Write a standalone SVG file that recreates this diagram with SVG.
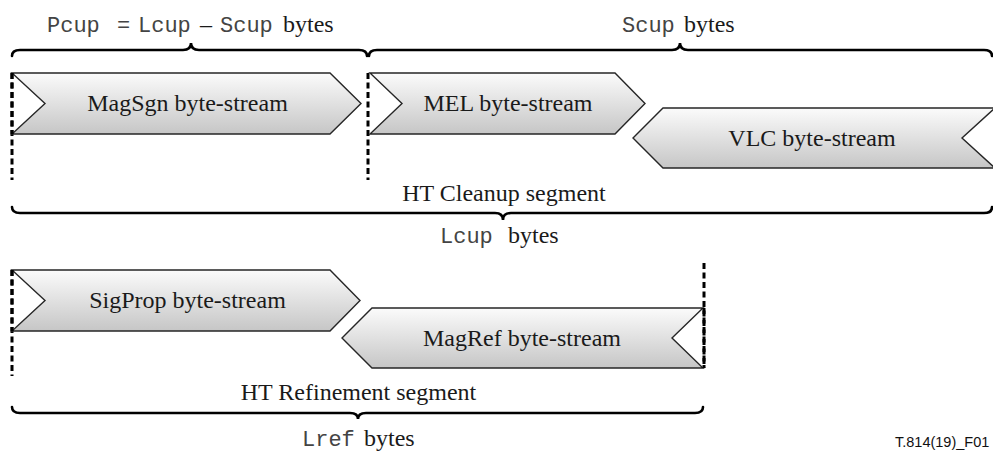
<svg xmlns="http://www.w3.org/2000/svg" width="993" height="453" viewBox="0 0 993 453">
<defs>
<linearGradient id="g" x1="0" y1="0" x2="0" y2="1">
<stop offset="0" stop-color="#fbfbfb"/>
<stop offset="1" stop-color="#c6c6c6"/>
</linearGradient>
</defs>
<style>
.s{fill:url(#g);stroke:#262626;stroke-width:1.4;stroke-linejoin:miter}
.t{font-family:"Liberation Serif","Times New Roman",serif;font-size:24px;fill:#1a1a1a}
.m{font-family:"Liberation Mono","Courier New",monospace;font-size:22px;fill:#444}
.c{text-anchor:middle}
.d{stroke:#000;stroke-width:3;stroke-dasharray:6,3.5;fill:none}
.b{stroke:#000;stroke-width:2.6;fill:none;stroke-linecap:round}
.f{font-family:"Liberation Sans",Arial,sans-serif;font-size:14.5px;fill:#111}
</style>
<rect width="993" height="453" fill="#fff"/>
<g id="labels">
<text class="t" y="32"><tspan class="m" x="47">Pcup</tspan><tspan class="m" x="117">=</tspan><tspan class="m" x="138">Lcup</tspan><tspan x="200">–</tspan><tspan class="m" x="220">Scup</tspan><tspan x="283">bytes</tspan></text>
<text class="t" y="32"><tspan class="m" x="622">Scup</tspan><tspan x="684">bytes</tspan></text>
<text class="t c" x="504" y="201">HT Cleanup segment</text>
<text class="t" y="243"><tspan class="m" x="440">Lcup</tspan><tspan x="508">bytes</tspan></text>
<text class="t c" x="358.5" y="400">HT Refinement segment</text>
<text class="t" y="446"><tspan class="m" x="302">Lref</tspan><tspan x="364">bytes</tspan></text>
<text class="f" x="895" y="447">T.814(19)_F01</text>
</g>
<g id="connectors">
<path class="b" d="M12,56 Q12,50 20,50 L183,50 Q191,50 191,43 Q191,50 199,50 L359,50 Q367,50 367,56"/>
<path class="b" d="M369,56 Q369,50 377,50 L672,50 Q680,50 680,43 Q680,50 688,50 L984,50 Q992,50 992,56"/>
<path class="b" d="M12,207 Q12,213 20,213 L495,213 Q503,213 503,220 Q503,213 511,213 L984,213 Q992,213 992,207"/>
<path class="b" d="M12,407 Q12,413 20,413 L350,413 Q358,413 358,419 Q358,413 366,413 L695,413 Q703,413 703,407"/>
<line class="d" x1="12" y1="73" x2="12" y2="180"/>
<line class="d" x1="368" y1="73" x2="368" y2="180"/>
<line class="d" x1="12" y1="270" x2="12" y2="376"/>
<line class="d" x1="704" y1="263" x2="704" y2="368"/>
</g>
<g id="magsgn">
<path class="s" d="M12,73 L330,73 L361,103.5 L330,134 L12,134 L45,103.5 Z"/>
<text class="t c" x="187.5" y="111">MagSgn byte-stream</text>
</g>
<g id="mel">
<path class="s" d="M370,73 L615,73 L645,103.5 L615,134 L370,134 L402,103.5 Z"/>
<text class="t c" x="508" y="111">MEL byte-stream</text>
</g>
<g id="vlc">
<path class="s" d="M633,138 L663,108 L995,108 L962,138 L995,168 L663,168 Z"/>
<text class="t c" x="812" y="145.5">VLC byte-stream</text>
</g>
<g id="sigprop">
<path class="s" d="M12,270 L330,270 L360,300.5 L330,331 L12,331 L45,300.5 Z"/>
<text class="t c" x="187.5" y="308">SigProp byte-stream</text>
</g>
<g id="magref">
<path class="s" d="M342,338 L372,308 L703,308 L672,338 L703,368 L372,368 Z"/>
<text class="t c" x="522" y="345.5">MagRef byte-stream</text>
</g>
<line class="d" x1="12" y1="73" x2="12" y2="134"/>
<line class="d" x1="12" y1="270" x2="12" y2="331"/>
<line class="d" x1="704" y1="308" x2="704" y2="368"/>
</svg>
